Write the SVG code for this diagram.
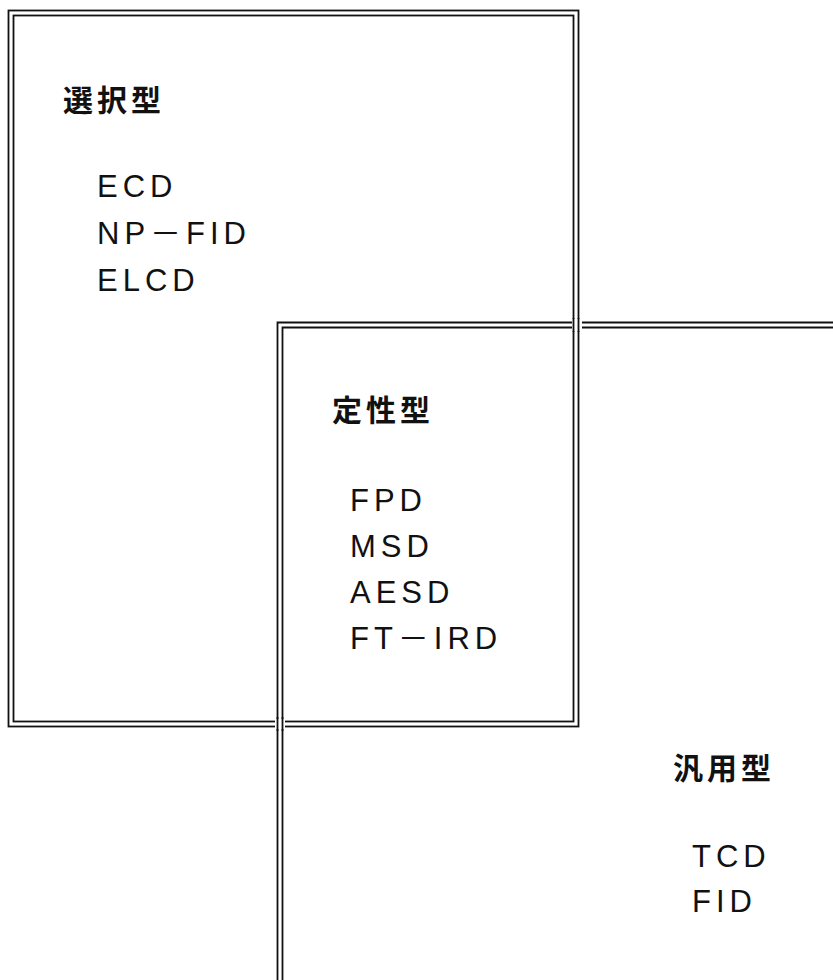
<svg xmlns="http://www.w3.org/2000/svg" width="833" height="980" viewBox="0 0 833 980">
<style>
.ln{fill:none;stroke:#111;stroke-width:1.8}
.lab{font-family:"Noto Sans CJK JP","Noto Sans CJK SC",sans-serif;font-weight:bold;font-size:30px;fill:#111;letter-spacing:4px}
.it{font-family:"Liberation Sans","Noto Sans CJK JP",sans-serif;font-size:31px;fill:#111;letter-spacing:5px}
</style>
<rect width="833" height="980" fill="#fff"/>
<g id="selective">
<rect class="ln" x="8.5" y="10.5" width="570" height="716"/>
<rect class="ln" x="13.5" y="15.5" width="560" height="706"/>
<text class="lab" x="63" y="111">選択型</text>
<text class="it" x="97" y="197">ECD</text>
<text class="it" x="97" y="244">NP－FID</text>
<text class="it" x="97" y="291">ELCD</text>
</g>
<g id="general">
<path class="ln" d="M277.5,985 V322.5 H840 M282.5,985 V327.5 H840"/>
<text class="lab" x="673" y="779">汎用型</text>
<text class="it" x="692" y="867">TCD</text>
<text class="it" x="692" y="912">FID</text>
</g>
<g id="qualitative">
<text class="lab" x="332" y="421">定性型</text>
<text class="it" x="350" y="511">FPD</text>
<text class="it" x="350" y="557">MSD</text>
<text class="it" x="350" y="603">AESD</text>
<text class="it" x="350" y="649">FT－IRD</text>
</g>
<g id="connectors">
<rect x="572" y="319" width="10" height="12" fill="#fff"/>
<path class="ln" d="M573.5,318 V332 M578.5,318 V332"/>
<rect x="275" y="719" width="10" height="10" fill="#fff"/>
<path class="ln" d="M277.5,717 V731 M282.5,717 V731"/>
</g>
</svg>
